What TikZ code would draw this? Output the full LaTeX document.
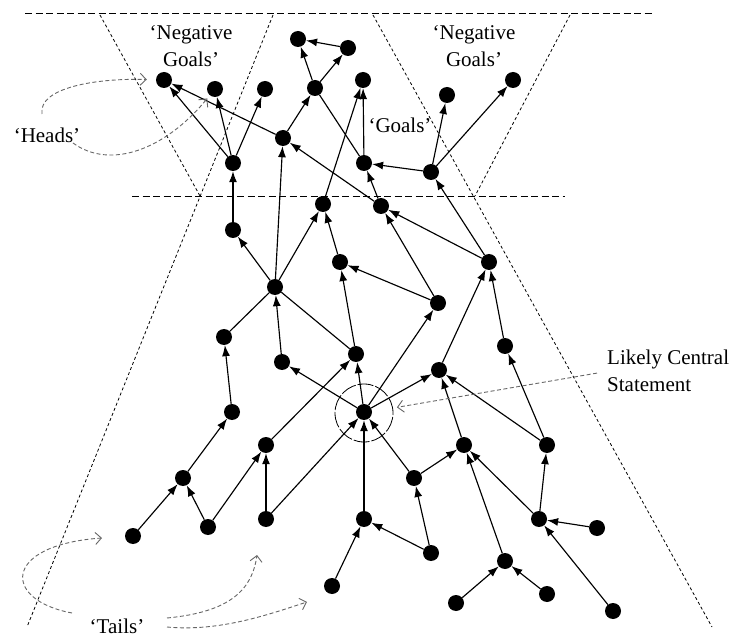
\documentclass[tikz,border=0pt]{standalone}
\usepackage{fontspec}
\setmainfont{Liberation Serif}
\usetikzlibrary{arrows.meta}
\begin{document}
\begin{tikzpicture}[x=1pt,y=-1pt,
  dot/.style={circle,fill=black,inner sep=0pt,minimum size=16pt},
  link/.style={line width=1.15pt,-{Latex[length=11pt,width=8pt]}},
  plainlink/.style={line width=1.15pt},
  lbl/.style={font=\fontsize{21}{27}\selectfont,inner sep=0pt,align=center},
  guide/.style={line width=0.8pt,dash pattern=on 3pt off 2.5pt},
  band/.style={line width=1pt,dash pattern=on 7pt off 3.5pt},
  hint/.style={black!60,line width=0.9pt,dash pattern=on 4pt off 2.5pt,-{Straight Barb[length=6pt,width=12pt]}},
]
\useasboundingbox (0,0) rectangle (737,639);

% guide lines
\draw[band] (25,14) -- (653,14);
\draw[band] (132,197) -- (565,197);
\draw[guide] (100,15) -- (200,196);
\draw[guide] (273,15) -- (27,627);
\draw[guide] (373,15) -- (712,627);
\draw[guide] (570,15) -- (475,196);

% nodes
\node[dot] (n1) at (164,80) {};
\node[dot] (n2) at (215,89) {};
\node[dot] (n3) at (265,89) {};
\node[dot] (n4) at (298,39) {};
\node[dot] (n5) at (348,48) {};
\node[dot] (n6) at (315,88) {};
\node[dot] (n7) at (363,80) {};
\node[dot] (n8) at (447,95) {};
\node[dot] (n9) at (513,80) {};
\node[dot] (n10) at (283,138) {};
\node[dot] (n11) at (233,163) {};
\node[dot] (n12) at (364,163) {};
\node[dot] (n13) at (431,172) {};
\node[dot] (n14) at (323,204) {};
\node[dot] (n15) at (381,206) {};
\node[dot] (n16) at (233,230) {};
\node[dot] (n17) at (340,262) {};
\node[dot] (n18) at (489,262) {};
\node[dot] (n19) at (275,287) {};
\node[dot] (n20) at (438,303) {};
\node[dot] (n21) at (224,337) {};
\node[dot] (n22) at (282,362) {};
\node[dot] (n23) at (356,354) {};
\node[dot] (n24) at (505,346) {};
\node[dot] (n25) at (439,370) {};
\node[dot] (n26) at (364,412) {};
\node[dot] (n27) at (232,412) {};
\node[dot] (n28) at (266,445) {};
\node[dot] (n29) at (183,478) {};
\node[dot] (n30) at (208,527) {};
\node[dot] (n31) at (266,519) {};
\node[dot] (n32) at (364,519) {};
\node[dot] (n33) at (414,478) {};
\node[dot] (n34) at (133,536) {};
\node[dot] (n35) at (464,445) {};
\node[dot] (n36) at (547,445) {};
\node[dot] (n38) at (431,553) {};
\node[dot] (n39) at (539,519) {};
\node[dot] (n40) at (597,528) {};
\node[dot] (n41) at (505,561) {};
\node[dot] (n42) at (456,603) {};
\node[dot] (n43) at (547,594) {};
\node[dot] (n44) at (613,611) {};
\node[dot] (n45) at (332,586) {};

\node[circle,draw,line width=0.8pt,dash pattern=on 16pt off 2pt,minimum size=58pt,inner sep=0pt] (ring) at (364,413) {};

% edges
\draw[link] (n11) -- (n1);
\draw[link] (n10) -- (n1);
\draw[link] (n11) -- (n2);
\draw[link] (n11) -- (n3);
\draw[link] (n16) -- (n11);
\draw[link] (n10) -- (n6);
\draw[link] (n6) -- (n4);
\draw[link] (n5) -- (n4);
\draw[link] (n6) -- (n5);
\draw[plainlink] (n6) -- (n12);
\draw[link] (n12) -- (n7);
\draw[link] (n14) -- (n7);
\draw[link] (n13) -- (n12);
\draw[link] (n13) -- (n8);
\draw[link] (n13) -- (n9);
\draw[link] (n18) -- (n13);
\draw[link] (n15) -- (n12);
\draw[link] (n18) -- (n15);
\draw[link] (n15) -- (n10);
\draw[link] (n19) -- (n16);
\draw[link] (n19) -- (n14);
\draw[link] (n19) -- (n10);
\draw[plainlink] (n21) -- (n19);
\draw[link] (n22) -- (n19);
\draw[plainlink] (n23) -- (n19);
\draw[link] (n26) -- (n22);
\draw[link] (n26) -- (n23);
\draw[link] (n23) -- (n17);
\draw[link] (n17) -- (n14);
\draw[link] (n20) -- (n17);
\draw[link] (n20) -- (n15);
\draw[link] (n26) -- (n20);
\draw[link] (n28) -- (n23);
\draw[link] (n27) -- (n21);
\draw[link] (n29) -- (n27);
\draw[link] (n30) -- (n29);
\draw[link] (n30) -- (n28);
\draw[link] (n31) -- (n28);
\draw[link] (n31) -- (n26);
\draw[link] (n34) -- (n29);
\draw[link] (n32) -- (n26);
\draw[link] (n45) -- (n32);
\draw[link] (n38) -- (n32);
\draw[link] (n33) -- (n26);
\draw[link] (n26) -- (n25);
\draw[link] (n25) -- (n18);
\draw[link] (n24) -- (n18);
\draw[link] (n35) -- (n25);
\draw[link] (n36) -- (n25);
\draw[link] (n36) -- (n24);
\draw[link] (n33) -- (n35);
\draw[link] (n38) -- (n33);
\draw[link] (n41) -- (n35);
\draw[link] (n39) -- (n35);
\draw[link] (n39) -- (n36);
\draw[link] (n40) -- (n39);
\draw[link] (n44) -- (n39);
\draw[link] (n42) -- (n41);
\draw[link] (n43) -- (n41);

% labels
\node[lbl] (negl) at (191,46) {‘Negative\\Goals’};
\node[lbl] (negr) at (474,46) {‘Negative\\Goals’};
\node[lbl] (goals) at (400,125) {‘Goals’};
\node[lbl] (heads) at (47,135) {‘Heads’};
\node[lbl,anchor=base] (tails) at (117,633) {‘Tails’};
\node[lbl,align=left,anchor=north west] (likely) at (607,350) {Likely Central\\Statement};

% hint arrows
\coordinate (hs1) at (42,114);
\coordinate (hs2) at (73,143);
\draw[hint,shorten >=9pt] (hs1) .. controls (38,88) and (95,78) .. (n1);
\draw[hint,shorten >=4pt] (hs2) .. controls (110,170) and (165,150) .. (n2);
\draw[hint,shorten >=4pt] ([xshift=-10pt,yshift=-2pt]likely.west) -- (ring);
\coordinate (ts1) at (72,613);
\coordinate (te1) at (102,538);
\coordinate (ts2) at (167,618);
\coordinate (te2) at (257,555);
\coordinate (ts3) at (167,627);
\coordinate (te3) at (307,602);
\draw[hint] (ts1) .. controls (2,600) and (2,545) .. (te1);
\draw[hint] (ts2) .. controls (230,612) and (252,590) .. (te2);
\draw[hint] (ts3) .. controls (220,632) and (270,614) .. (te3);
\end{tikzpicture}
\end{document}
